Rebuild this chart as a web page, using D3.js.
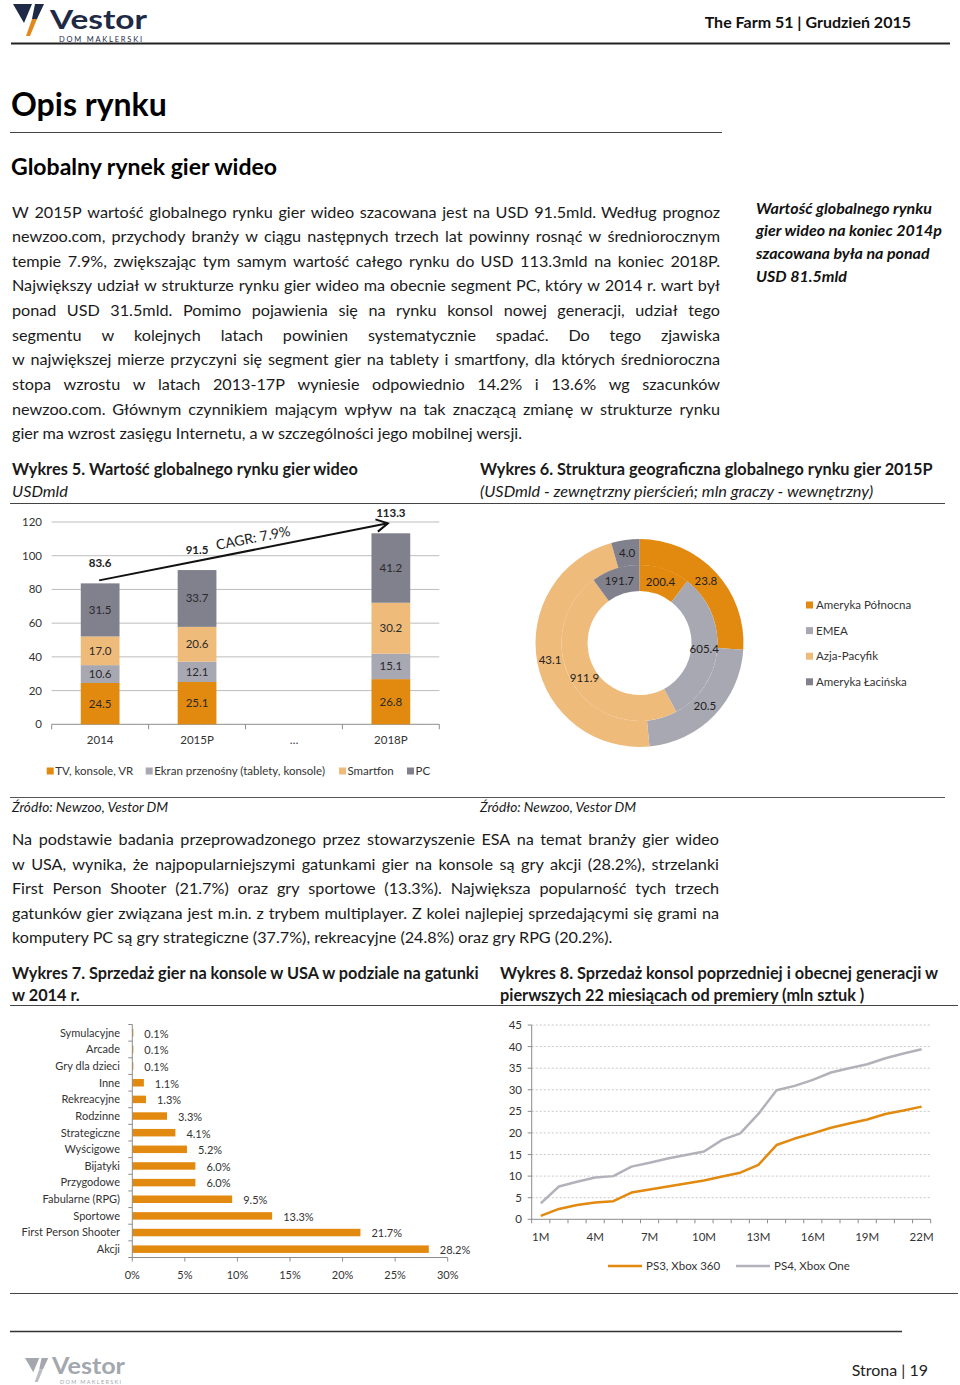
<!DOCTYPE html>
<html><head><meta charset="utf-8">
<script src="https://cdn.jsdelivr.net/npm/d3@7"></script>
<style>
html,body{margin:0;padding:0;background:#fff;}
svg{display:block;font-family:Lato,'Open Sans',sans-serif;}
</style>
</head><body>
<svg id="page" width="960" height="1385"></svg>
<script>
// ---------------- DATA ----------------
const headerText = "The Farm 51 | Grudzień 2015";
const pageTitle = "Opis rynku";
const sectionTitle = "Globalny rynek gier wideo";
const para1 = [
  "W 2015P wartość globalnego rynku gier wideo szacowana jest na USD 91.5mld. Według prognoz",
  "newzoo.com, przychody branży w ciągu następnych trzech lat powinny rosnąć w średniorocznym",
  "tempie 7.9%, zwiększając tym samym wartość całego rynku do USD 113.3mld na koniec 2018P.",
  "Największy udział w strukturze rynku gier wideo ma obecnie segment PC, który w 2014 r. wart był",
  "ponad USD 31.5mld. Pomimo pojawienia się na rynku konsol nowej generacji, udział tego",
  "segmentu w kolejnych latach powinien systematycznie spadać. Do tego zjawiska",
  "w największej mierze przyczyni się segment gier na tablety i smartfony, dla których średnioroczna",
  "stopa wzrostu w latach 2013-17P wyniesie odpowiednio 14.2% i 13.6% wg szacunków",
  "newzoo.com. Głównym czynnikiem mającym wpływ na tak znaczącą zmianę w strukturze rynku",
  "gier ma wzrost zasięgu Internetu, a w szczególności jego mobilnej wersji."
];
const sideNote = ["Wartość globalnego rynku","gier wideo na koniec 2014p","szacowana była na ponad","USD 81.5mld"];
const para2 = [
  "Na podstawie badania przeprowadzonego przez stowarzyszenie ESA na temat branży gier wideo",
  "w USA, wynika, że najpopularniejszymi gatunkami gier na konsole są gry akcji (28.2%), strzelanki",
  "First Person Shooter (21.7%) oraz gry sportowe (13.3%). Największa popularność tych trzech",
  "gatunków gier związana jest m.in. z trybem multiplayer. Z kolei najlepiej sprzedającymi się grami na",
  "komputery PC są gry strategiczne (37.7%), rekreacyjne (24.8%) oraz gry RPG (20.2%)."
];
const title5 = ["Wykres 5. Wartość globalnego rynku gier wideo", "USDmld"];
const title6 = ["Wykres 6. Struktura geograficzna globalnego rynku gier 2015P", "(USDmld - zewnętrzny pierścień; mln graczy - wewnętrzny)"];
const title7 = ["Wykres 7. Sprzedaż gier na konsole w USA w podziale na gatunki", "w 2014 r."];
const title8 = ["Wykres 8. Sprzedaż konsol poprzedniej i obecnej generacji w", "pierwszych 22 miesiącach od premiery (mln sztuk )"];
const sourceText = "Źródło: Newzoo, Vestor DM";
const pageFooter = "Strona | 19";

// Chart 5
const c5Categories = ["2014", "2015P", "…", "2018P"];
const c5SeriesNames = ["TV, konsole, VR", "Ekran przenośny (tablety, konsole)", "Smartfon", "PC"];
const c5TV       = [24.5, 25.1, null, 26.8];
const c5Ekran    = [10.6, 12.1, null, 15.1];
const c5Smartfon = [17.0, 20.6, null, 30.2];
const c5PC       = [31.5, 33.7, null, 41.2];
const c5Totals   = [83.6, 91.5, null, 113.3];
const c5Ticks    = [0, 20, 40, 60, 80, 100, 120];
const c5Cagr     = "CAGR: 7.9%";

// Chart 6
const c6Regions = ["Ameryka Północna", "EMEA", "Azja-Pacyfik", "Ameryka Łacińska"];
const c6Revenue = [23.8, 20.5, 43.1, 4.0];      // USD bn, outer ring
const c6Players = [200.4, 605.4, 911.9, 191.7]; // mln players, inner ring

// Chart 7
const c7Genres = ["Symulacyjne","Arcade","Gry dla dzieci","Inne","Rekreacyjne","Rodzinne","Strategiczne","Wyścigowe","Bijatyki","Przygodowe","Fabularne (RPG)","Sportowe","First Person Shooter","Akcji"];
const c7Share  = [0.1, 0.1, 0.1, 1.1, 1.3, 3.3, 4.1, 5.2, 6.0, 6.0, 9.5, 13.3, 21.7, 28.2];
const c7Ticks  = [0, 5, 10, 15, 20, 25, 30];

// Chart 8
const c8Months = ["1M","2M","3M","4M","5M","6M","7M","8M","9M","10M","11M","12M","13M","14M","15M","16M","17M","18M","19M","20M","21M","22M"];
const c8TickLabels = ["1M","4M","7M","10M","13M","16M","19M","22M"];
const c8PS3 = [0.8, 2.4, 3.3, 3.9, 4.2, 6.2, 6.9, 7.6, 8.3, 9.0, 9.9, 10.8, 12.6, 17.2, 18.7, 19.9, 21.2, 22.2, 23.1, 24.4, 25.2, 26.1];
const c8PS4 = [3.7, 7.6, 8.7, 9.7, 10.0, 12.2, 13.1, 14.1, 14.9, 15.7, 18.4, 19.9, 24.4, 29.9, 30.9, 32.3, 34.0, 35.0, 35.9, 37.3, 38.4, 39.4];
const c8SeriesNames = ["PS3, Xbox 360", "PS4, Xbox One"];
const c8Ticks = [0, 5, 10, 15, 20, 25, 30, 35, 40, 45];

// ---------------- STYLE ----------------
const COL = {
  orange: "#E2890F", grey: "#A8A8B2", lightOrange: "#EFBB7B", darkGrey: "#80818D",
  text: "#1a1a1a", axisText: "#333", grid: "#bdbdbd", navy: "#1e2a46",
  lineGrey: "#B2B2BA"
};
const svg = d3.select("#page");
svg.append("rect").attr("width", 960).attr("height", 1385).attr("fill", "#fff");

function hline(y, x1, x2, w, c) {
  svg.append("line").attr("x1", x1).attr("x2", x2).attr("y1", y).attr("y2", y)
    .attr("stroke", c || "#333").attr("stroke-width", w || 1);
}
function txt(g, s, x, y, o) {
  o = o || {};
  const t = g.append("text").attr("x", x).attr("y", y).text(s)
    .attr("font-size", o.size || 15).attr("fill", o.fill || COL.text);
  if (o.weight) t.attr("font-weight", o.weight);
  if (o.italic) t.attr("font-style", "italic");
  if (o.anchor) t.attr("text-anchor", o.anchor);
  if (o.dy) t.attr("dy", o.dy);
  return t;
}
function justify(g, str, x, y, width, size, doJustify) {
  const t = g.append("text").attr("x", x).attr("y", y).attr("font-size", size).attr("fill", COL.text);
  if (!doJustify) { t.text(str); return t; }
  const words = str.split(" ");
  const spans = words.map(w => t.append("tspan").text(w));
  let lens = spans.map(s => s.node().getComputedTextLength());
  let total = d3.sum(lens);
  let gap = (width - total) / (words.length - 1);
  if (gap < 3) {
    const ns = size * (width - 3 * (words.length - 1)) / total;
    t.attr("font-size", ns);
    lens = spans.map(s => s.node().getComputedTextLength());
    total = d3.sum(lens);
    gap = (width - total) / (words.length - 1);
  }
  let cx = x;
  spans.forEach((s, i) => { s.attr("x", cx); cx += lens[i] + gap; });
  return t;
}

// ---------------- LOGO ----------------
function logo(x, y, s, dark, accent) {
  const g = svg.append("g").attr("transform", `translate(${x},${y}) scale(${s})`);
  g.append("polygon").attr("points", "0,0 19,0 11,19").attr("fill", dark);
  g.append("polygon").attr("points", "22,0 31,0 24,15 19,15").attr("fill", dark);
  g.append("polygon").attr("points", "19,15 24,15 17,32 13,32").attr("fill", accent);
  return g;
}
logo(13, 4, 1, COL.navy, "#E08A1E");
txt(svg, "Vestor", 50, 28.5, {size: 27.5, weight: 700, fill: COL.navy}).attr("textLength", 97).attr("lengthAdjust", "spacingAndGlyphs");
txt(svg, "DOM MAKLERSKI", 59, 41.5, {size: 7.5, fill: COL.navy}).attr("textLength", 83).attr("lengthAdjust", "spacing");
logo(25, 1358, 0.75, "#a3a7ae", "#b9bcc2");
txt(svg, "Vestor", 52, 1374, {size: 22, weight: 700, fill: "#a3a7ae"}).attr("textLength", 73).attr("lengthAdjust", "spacingAndGlyphs");
txt(svg, "DOM MAKLERSKI", 60, 1384, {size: 5.5, fill: "#a3a7ae"}).attr("textLength", 61).attr("lengthAdjust", "spacing");

// ---------------- PAGE TEXT ----------------
txt(svg, headerText, 911, 27.5, {size: 16, weight: 700, anchor: "end", fill: "#111"});
hline(43.5, 11, 950, 2.2, "#222");
txt(svg, pageTitle, 11, 116, {size: 32, weight: 700, fill: "#000"});
hline(132.5, 10, 722, 1.2, "#444");
txt(svg, sectionTitle, 11, 175, {size: 23, weight: 700, fill: "#000"});

para1.forEach((l, i) => justify(svg, l, 12, 217.5 + i * 24.65, 708, 16.2, i < para1.length - 1));
sideNote.forEach((l, i) => txt(svg, l, 756, 213.5 + i * 22.7, {size: 16, weight: 700, italic: true, fill: "#111"}));

txt(svg, title5[0], 12, 474.5, {size: 16.3, weight: 700});
txt(svg, title5[1], 12, 496.5, {size: 16.3, italic: true});
txt(svg, title6[0], 480, 474.5, {size: 16.3, weight: 700});
txt(svg, title6[1], 480, 496.5, {size: 16.3, italic: true});
hline(503.5, 10, 945, 1.2, "#444");

hline(797.5, 10, 945, 1.2, "#555");
txt(svg, sourceText, 12, 812, {size: 13.7, italic: true});
txt(svg, sourceText, 480, 812, {size: 13.7, italic: true});

para2.forEach((l, i) => justify(svg, l, 12, 845 + i * 24.5, 707, 16.2, i < para2.length - 1));

txt(svg, title7[0], 12, 978.5, {size: 16.3, weight: 700});
txt(svg, title7[1], 12, 1000.5, {size: 16.3, weight: 700});
txt(svg, title8[0], 500, 978.5, {size: 16.3, weight: 700});
txt(svg, title8[1], 500, 1000.5, {size: 16.3, weight: 700});
hline(1005.5, 10, 958, 1.2, "#444");
hline(1293.5, 10, 958, 1.2, "#444");
hline(1331.5, 10, 902, 1.5, "#333");
txt(svg, pageFooter, 928, 1376, {size: 16, anchor: "end", fill: "#222"});

// ---------------- CHART 5 ----------------
(function () {
  const g = svg.append("g");
  const x = d3.scaleBand().domain(c5Categories).range([51.7, 439.3]).paddingInner(0.6).paddingOuter(0.3);
  const y = d3.scaleLinear().domain([0, 120]).range([724.3, 522]);
  const step = x.step();
  g.selectAll(".grid").data(c5Ticks).join("line")
    .attr("x1", 51.7).attr("x2", 439.3).attr("y1", d => y(d)).attr("y2", d => y(d))
    .attr("stroke", d => d === 0 ? "#8c8c8c" : COL.grid).attr("stroke-width", 1);
  g.selectAll(".yt").data(c5Ticks).join("text")
    .attr("x", 42).attr("y", d => y(d)).attr("dy", "0.35em").attr("text-anchor", "end")
    .attr("font-size", 11.5).attr("fill", COL.axisText).text(d => d);
  const bounds = c5Categories.map(c => x(c) - step * 0.3).concat([439.3]);
  g.selectAll(".xtm").data(bounds).join("line")
    .attr("x1", d => d).attr("x2", d => d).attr("y1", y(0)).attr("y2", y(0) + 5)
    .attr("stroke", "#8c8c8c");
  g.selectAll(".xt").data(c5Categories).join("text")
    .attr("x", d => x(d) + x.bandwidth() / 2).attr("y", 740).attr("dy", "0.35em")
    .attr("text-anchor", "middle").attr("font-size", 11.5).attr("fill", COL.axisText).text(d => d);

  const rows = c5Categories.map((c, i) => ({cat: c, tv: c5TV[i], ekran: c5Ekran[i], smart: c5Smartfon[i], pc: c5PC[i], total: c5Totals[i]}))
    .filter(r => r.tv != null);
  const keys = ["tv", "ekran", "smart", "pc"];
  const colors = [COL.orange, COL.grey, COL.lightOrange, COL.darkGrey];
  const stack = d3.stack().keys(keys)(rows);
  stack.forEach((layer, li) => {
    g.selectAll(".b" + li).data(layer).join("rect")
      .attr("x", d => x(d.data.cat)).attr("width", x.bandwidth())
      .attr("y", d => y(d[1])).attr("height", d => y(d[0]) - y(d[1]))
      .attr("fill", colors[li]);
    g.selectAll(".l" + li).data(layer).join("text")
      .attr("x", d => x(d.data.cat) + x.bandwidth() / 2).attr("y", d => y((d[0] + d[1]) / 2))
      .attr("dy", "0.35em").attr("text-anchor", "middle").attr("font-size", 11.5).attr("fill", "#2a2a2a")
      .text(d => d.data[keys[li]].toFixed(1));
  });
  g.selectAll(".tot").data(rows).join("text")
    .attr("x", d => x(d.cat) + x.bandwidth() / 2).attr("y", d => y(d.total) - 20)
    .attr("dy", "0.35em").attr("text-anchor", "middle").attr("font-size", 11.5).attr("font-weight", 700)
    .attr("fill", "#222").text(d => d.total.toFixed(1));

  const first = rows[0], last = rows[rows.length - 1];
  const x1 = x(first.cat) + x.bandwidth() / 2 - 1, y1 = y(first.total) - 3;
  const x2 = x(last.cat) + x.bandwidth() / 2 - 3, y2 = y(last.total) - 10;
  g.append("line").attr("x1", x1).attr("y1", y1).attr("x2", x2).attr("y2", y2)
    .attr("stroke", "#111").attr("stroke-width", 2);
  const ang = Math.atan2(y2 - y1, x2 - x1);
  const hl = 13, ha = 0.5;
  g.append("polyline")
    .attr("points", [[x2 - hl * Math.cos(ang - ha), y2 - hl * Math.sin(ang - ha)], [x2, y2], [x2 - hl * Math.cos(ang + ha), y2 - hl * Math.sin(ang + ha)]].map(p => p.join(",")).join(" "))
    .attr("fill", "none").attr("stroke", "#111").attr("stroke-width", 2);
  const deg = ang * 180 / Math.PI;
  g.append("text").attr("transform", `translate(253,538) rotate(${deg})`)
    .attr("text-anchor", "middle").attr("dy", "0.35em").attr("font-size", 14).attr("fill", "#222").text(c5Cagr);

  const legX = [46.7, 145.7, 339, 407];
  c5SeriesNames.forEach((n, i) => {
    g.append("rect").attr("x", legX[i]).attr("y", 767.5).attr("width", 7).attr("height", 7).attr("fill", colors[i]);
    g.append("text").attr("x", legX[i] + 8.5).attr("y", 771).attr("dy", "0.35em").attr("font-size", 11.5)
      .attr("fill", COL.axisText).text(n);
  });
})();

// ---------------- CHART 6 ----------------
(function () {
  const g = svg.append("g").attr("transform", "translate(639.5,643)");
  const colors = [COL.orange, COL.grey, COL.lightOrange, COL.darkGrey];
  const pie = d3.pie().sort(null).value(d => d);
  const outer = d3.arc().innerRadius(78).outerRadius(104);
  const inner = d3.arc().innerRadius(52).outerRadius(78);
  const po = pie(c6Revenue), pi = pie(c6Players);
  g.selectAll(".o").data(po).join("path").attr("d", outer).attr("fill", (d, i) => colors[i]);
  g.selectAll(".i").data(pi).join("path").attr("d", inner).attr("fill", (d, i) => colors[i]);
  g.selectAll(".ol").data(po).join("text").attr("transform", d => `translate(${outer.centroid(d)})`)
    .attr("text-anchor", "middle").attr("dy", "0.35em").attr("font-size", 11.5).attr("fill", "#222")
    .text(d => d.data.toFixed(1));
  g.selectAll(".il").data(pi).join("text").attr("transform", d => `translate(${inner.centroid(d)})`)
    .attr("text-anchor", "middle").attr("dy", "0.35em").attr("font-size", 11.5).attr("fill", "#222")
    .text(d => d.data.toFixed(1));
  c6Regions.forEach((r, i) => {
    svg.append("rect").attr("x", 806).attr("y", 601.5 + i * 25.6).attr("width", 7).attr("height", 7).attr("fill", colors[i]);
    svg.append("text").attr("x", 816).attr("y", 605 + i * 25.6).attr("dy", "0.35em").attr("font-size", 11.5)
      .attr("fill", COL.axisText).text(r);
  });
})();

// ---------------- CHART 7 ----------------
(function () {
  const g = svg.append("g");
  const y = d3.scaleBand().domain(c7Genres).range([1024.5, 1257.5]).paddingInner(0.55).paddingOuter(0.275);
  const x = d3.scaleLinear().domain([0, 30]).range([132.3, 447.7]);
  g.selectAll("rect").data(c7Genres).join("rect")
    .attr("x", x(0)).attr("y", d => y(d)).attr("height", y.bandwidth())
    .attr("width", (d, i) => x(c7Share[i]) - x(0)).attr("fill", COL.orange);
  g.append("line").attr("x1", x(0)).attr("x2", x(0)).attr("y1", 1024.5).attr("y2", 1257.5).attr("stroke", "#8c8c8c");
  g.append("line").attr("x1", x(0)).attr("x2", x(30)).attr("y1", 1257.5).attr("y2", 1257.5).attr("stroke", "#8c8c8c");
  const step = y.step();
  const yb = c7Genres.map(c => y(c) - step * 0.275).concat([1257.5]);
  g.selectAll(".ytm").data(yb).join("line").attr("x1", x(0) - 4).attr("x2", x(0)).attr("y1", d => d).attr("y2", d => d).attr("stroke", "#8c8c8c");
  g.selectAll(".xtm").data(c7Ticks).join("line").attr("x1", d => x(d)).attr("x2", d => x(d)).attr("y1", 1257.5).attr("y2", 1261.5).attr("stroke", "#8c8c8c");
  g.selectAll(".yl").data(c7Genres).join("text")
    .attr("x", 120).attr("y", d => y(d) + y.bandwidth() / 2).attr("dy", "0.35em").attr("text-anchor", "end")
    .attr("font-size", 11).attr("fill", COL.axisText).text(d => d);
  g.selectAll(".vl").data(c7Genres).join("text")
    .attr("x", (d, i) => x(c7Share[i]) + 11).attr("y", d => y(d) + y.bandwidth() / 2 + 1).attr("dy", "0.35em")
    .attr("font-size", 11).attr("fill", COL.axisText).text((d, i) => c7Share[i].toFixed(1) + "%");
  g.selectAll(".xl").data(c7Ticks).join("text")
    .attr("x", d => x(d)).attr("y", 1275).attr("dy", "0.35em").attr("text-anchor", "middle")
    .attr("font-size", 11).attr("fill", COL.axisText).text(d => d + "%");
})();

// ---------------- CHART 8 ----------------
(function () {
  const g = svg.append("g");
  const x = d3.scaleBand().domain(c8Months).range([531.7, 930.7]);
  const y = d3.scaleLinear().domain([0, 45]).range([1219.3, 1025]);
  const cx = m => x(m) + x.bandwidth() / 2;
  g.selectAll(".grid").data(c8Ticks.filter(d => d > 0)).join("line")
    .attr("x1", 531.7).attr("x2", 930.7).attr("y1", d => y(d)).attr("y2", d => y(d))
    .attr("stroke", "#c8c8c8").attr("stroke-dasharray", "2,2");
  g.append("line").attr("x1", 531.7).attr("x2", 531.7).attr("y1", 1025).attr("y2", 1219.3).attr("stroke", "#8c8c8c");
  g.append("line").attr("x1", 531.7).attr("x2", 930.7).attr("y1", 1219.3).attr("y2", 1219.3).attr("stroke", "#8c8c8c");
  g.selectAll(".ytm").data(c8Ticks).join("line").attr("x1", 527.7).attr("x2", 531.7).attr("y1", d => y(d)).attr("y2", d => y(d)).attr("stroke", "#8c8c8c");
  const xb = c8Months.map(m => x(m)).concat([930.7]);
  g.selectAll(".xtm").data(xb).join("line").attr("x1", d => d).attr("x2", d => d).attr("y1", 1219.3).attr("y2", 1223.3).attr("stroke", "#8c8c8c");
  g.selectAll(".yl").data(c8Ticks).join("text").attr("x", 522).attr("y", d => y(d)).attr("dy", "0.35em")
    .attr("text-anchor", "end").attr("font-size", 11.5).attr("fill", COL.axisText).text(d => d);
  g.selectAll(".xl").data(c8TickLabels).join("text").attr("x", d => cx(d)).attr("y", 1236.5).attr("dy", "0.35em")
    .attr("text-anchor", "middle").attr("font-size", 11.5).attr("fill", COL.axisText).text(d => d);
  const line = d3.line().x((d, i) => cx(c8Months[i])).y(d => y(d));
  g.append("path").attr("d", line(c8PS4)).attr("fill", "none").attr("stroke", COL.lineGrey).attr("stroke-width", 2.5).attr("stroke-linejoin", "round");
  g.append("path").attr("d", line(c8PS3)).attr("fill", "none").attr("stroke", COL.orange).attr("stroke-width", 2.5).attr("stroke-linejoin", "round");
  const legs = [[608, COL.orange], [736, COL.lineGrey]];
  c8SeriesNames.forEach((n, i) => {
    g.append("line").attr("x1", legs[i][0]).attr("x2", legs[i][0] + 34).attr("y1", 1266).attr("y2", 1266)
      .attr("stroke", legs[i][1]).attr("stroke-width", 2.5);
    g.append("text").attr("x", legs[i][0] + 38).attr("y", 1266).attr("dy", "0.35em").attr("font-size", 11.5)
      .attr("fill", COL.axisText).text(n);
  });
})();
</script>
</body></html>
